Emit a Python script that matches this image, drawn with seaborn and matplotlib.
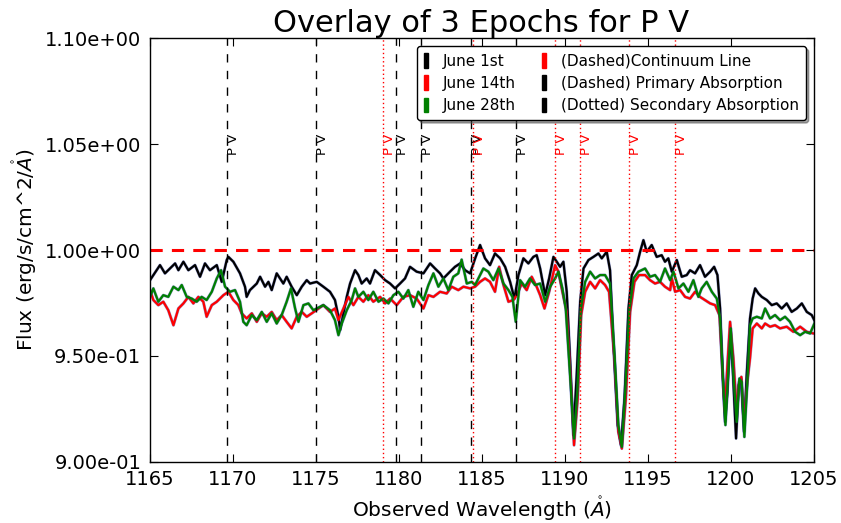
import matplotlib
matplotlib.use("Agg")
import matplotlib.pyplot as plt
import seaborn as sns
import pandas as pd
from matplotlib.patches import Patch
from matplotlib.ticker import FormatStrFormatter

# ---------------- data ----------------
wl_june1 = [1165.03, 1165.63, 1165.93, 1166.54, 1166.74, 1167.04, 1167.34, 1167.74, 1168.04, 1168.34,
            1168.64, 1169.05, 1169.35, 1169.65, 1169.75, 1170.05, 1170.45, 1170.75, 1170.85, 1171.05,
            1171.46, 1171.66, 1171.96, 1172.16, 1172.36, 1172.66, 1173.06, 1173.26, 1173.56, 1173.87,
            1174.17, 1174.47, 1174.67, 1175.07, 1175.47, 1175.87, 1176.17, 1176.38, 1176.48, 1176.68,
            1176.88, 1177.08, 1177.38, 1177.58, 1177.78, 1178.08, 1178.28, 1178.58, 1178.89, 1179.19,
            1179.49, 1179.79, 1180.09, 1180.39, 1180.69, 1181.09, 1181.50, 1181.90, 1182.20, 1182.50,
            1182.70, 1183.10, 1183.40, 1183.71, 1184.01, 1184.31, 1184.61, 1184.91, 1185.21, 1185.51,
            1185.81, 1186.12, 1186.42, 1186.72, 1186.98, 1187.22, 1187.52, 1187.82, 1188.12, 1188.32,
            1188.53, 1188.83, 1189.07, 1189.33, 1189.53, 1189.73, 1189.93, 1190.13, 1190.33, 1190.53,
            1190.73, 1190.94, 1191.14, 1191.44, 1191.74, 1192.04, 1192.24, 1192.54, 1192.74, 1192.94,
            1193.20, 1193.40, 1193.61, 1193.85, 1194.05, 1194.35, 1194.55, 1194.75, 1194.95, 1195.25,
            1195.55, 1195.85, 1196.05, 1196.25, 1196.46, 1196.76, 1197.06, 1197.36, 1197.56, 1197.86,
            1198.16, 1198.46, 1198.77, 1199.01, 1199.21, 1199.37, 1199.53, 1199.67, 1199.81, 1199.97,
            1200.13, 1200.33, 1200.49, 1200.63, 1200.81, 1200.97, 1201.17, 1201.33, 1201.48, 1201.68,
            1201.88, 1202.18, 1202.48, 1202.78, 1203.08, 1203.38, 1203.68, 1203.99, 1204.29, 1204.59,
            1204.89, 1205.09]
flux_june1 = [0.9858, 0.9929, 0.9890, 0.9937, 0.9905, 0.9945, 0.9905, 0.9929, 0.9874, 0.9937,
              0.9905, 0.9929, 0.9850, 0.9953, 0.9968, 0.9945, 0.9890, 0.9827, 0.9779, 0.9811,
              0.9842, 0.9874, 0.9827, 0.9850, 0.9811, 0.9890, 0.9842, 0.9874, 0.9827, 0.9787,
              0.9827, 0.9858, 0.9842, 0.9850, 0.9827, 0.9803, 0.9764, 0.9685, 0.9622, 0.9701,
              0.9779, 0.9842, 0.9905, 0.9882, 0.9842, 0.9866, 0.9842, 0.9905, 0.9882, 0.9858,
              0.9842, 0.9819, 0.9842, 0.9866, 0.9921, 0.9898, 0.9890, 0.9937, 0.9913, 0.9890,
              0.9866, 0.9898, 0.9921, 0.9937, 0.9905, 0.9890, 0.9960, 1.0024, 0.9961, 0.9929,
              0.9984, 0.9961, 0.9921, 0.9850, 0.9771, 0.9882, 0.9961, 0.9937, 0.9968, 0.9976,
              0.9913, 0.9787, 0.9866, 0.9968, 0.9945, 0.9921, 0.9945, 0.9803, 0.9488, 0.9125,
              0.9409, 0.9756, 0.9913, 0.9953, 0.9968, 0.9984, 0.9961, 0.9992, 0.9905, 0.9567,
              0.9173, 0.9078, 0.9299, 0.9724, 0.9882, 0.9929, 0.9992, 1.0047, 0.9992, 1.0024,
              0.9968, 0.9976, 0.9945, 0.9961, 0.9898, 0.9953, 0.9874, 0.9882, 0.9905, 0.9890,
              0.9929, 0.9874, 0.9898, 0.9921, 0.9882, 0.9724, 0.9409, 0.9188, 0.9330, 0.9598,
              0.9441, 0.9110, 0.9362, 0.9393, 0.9141, 0.9409, 0.9677, 0.9771, 0.9819, 0.9795,
              0.9779, 0.9764, 0.9740, 0.9748, 0.9724, 0.9748, 0.9708, 0.9724, 0.9748, 0.9708,
              0.9693, 0.9661]

wl_june14 = [1165.03, 1165.23, 1165.53, 1165.83, 1166.13, 1166.44, 1166.74, 1167.04, 1167.34, 1167.64,
             1167.94, 1168.24, 1168.44, 1168.75, 1169.05, 1169.45, 1169.75, 1170.05, 1170.35, 1170.55,
             1170.85, 1171.16, 1171.46, 1171.76, 1172.06, 1172.36, 1172.66, 1172.96, 1173.26, 1173.56,
             1173.87, 1174.17, 1174.47, 1174.77, 1175.47, 1175.87, 1176.17, 1176.38, 1176.68, 1176.98,
             1177.28, 1177.58, 1177.88, 1178.18, 1178.48, 1178.89, 1179.19, 1179.49, 1179.89, 1180.29,
             1180.69, 1181.09, 1181.50, 1181.80, 1182.10, 1182.50, 1182.90, 1183.20, 1183.60, 1183.91,
             1184.31, 1184.61, 1184.91, 1185.21, 1185.51, 1185.81, 1186.06, 1186.32, 1186.62, 1186.92,
             1187.12, 1187.42, 1187.72, 1188.02, 1188.32, 1188.53, 1188.79, 1189.07, 1189.43, 1189.63,
             1189.87, 1190.13, 1190.37, 1190.57, 1190.79, 1191.00, 1191.24, 1191.54, 1191.84, 1192.14,
             1192.44, 1192.68, 1193.00, 1193.24, 1193.45, 1193.69, 1193.95, 1194.21, 1194.49, 1194.85,
             1195.15, 1195.45, 1195.75, 1196.05, 1196.36, 1196.46, 1196.66, 1196.96, 1197.26, 1197.56,
             1197.86, 1198.16, 1198.46, 1198.77, 1199.07, 1199.33, 1199.49, 1199.65, 1199.81, 1199.97,
             1200.17, 1200.37, 1200.51, 1200.65, 1200.81, 1201.01, 1201.17, 1201.33, 1201.58, 1201.88,
             1202.08, 1202.38, 1202.68, 1202.98, 1203.38, 1203.78, 1204.19, 1204.59, 1204.99]
flux_june14 = [0.9811, 0.9764, 0.9740, 0.9756, 0.9716, 0.9645, 0.9724, 0.9748, 0.9779, 0.9748,
               0.9779, 0.9756, 0.9685, 0.9740, 0.9756, 0.9787, 0.9803, 0.9764, 0.9740, 0.9701,
               0.9677, 0.9701, 0.9661, 0.9701, 0.9685, 0.9708, 0.9669, 0.9693, 0.9661, 0.9630,
               0.9685, 0.9708, 0.9685, 0.9701, 0.9740, 0.9708, 0.9724, 0.9669, 0.9724, 0.9779,
               0.9740, 0.9779, 0.9756, 0.9787, 0.9756, 0.9779, 0.9748, 0.9771, 0.9740, 0.9779,
               0.9787, 0.9771, 0.9724, 0.9787, 0.9779, 0.9803, 0.9795, 0.9827, 0.9811, 0.9827,
               0.9819, 0.9827, 0.9850, 0.9866, 0.9850, 0.9803, 0.9921, 0.9835, 0.9756, 0.9764,
               0.9787, 0.9842, 0.9811, 0.9874, 0.9827, 0.9787, 0.9724, 0.9803, 0.9929, 0.9898,
               0.9803, 0.9708, 0.9393, 0.9078, 0.9299, 0.9693, 0.9803, 0.9850, 0.9819, 0.9858,
               0.9835, 0.9803, 0.9488, 0.9141, 0.9062, 0.9299, 0.9708, 0.9850, 0.9882, 0.9882,
               0.9858, 0.9842, 0.9850, 0.9827, 0.9811, 0.9866, 0.9803, 0.9811, 0.9779, 0.9771,
               0.9803, 0.9779, 0.9764, 0.9748, 0.9740, 0.9693, 0.9456, 0.9236, 0.9456, 0.9661,
               0.9488, 0.9236, 0.9377, 0.9401, 0.9188, 0.9377, 0.9488, 0.9630, 0.9653, 0.9630,
               0.9653, 0.9638, 0.9645, 0.9630, 0.9638, 0.9614, 0.9638, 0.9614, 0.9606]

wl_june28 = [1165.03, 1165.23, 1165.53, 1165.83, 1166.13, 1166.44, 1166.74, 1166.94, 1167.24, 1167.54,
             1167.84, 1168.14, 1168.44, 1168.75, 1169.05, 1169.31, 1169.55, 1169.85, 1170.15, 1170.45,
             1170.65, 1170.85, 1171.16, 1171.46, 1171.76, 1172.06, 1172.36, 1172.66, 1172.96, 1173.26,
             1173.52, 1173.77, 1173.97, 1174.27, 1174.57, 1174.87, 1175.47, 1175.87, 1176.17, 1176.38,
             1176.58, 1176.88, 1177.18, 1177.38, 1177.58, 1177.88, 1178.18, 1178.48, 1178.79, 1179.09,
             1179.39, 1179.69, 1179.99, 1180.29, 1180.59, 1180.89, 1181.19, 1181.50, 1181.80, 1182.10,
             1182.40, 1182.70, 1183.00, 1183.30, 1183.60, 1183.80, 1184.11, 1184.41, 1184.61, 1184.91,
             1185.11, 1185.41, 1185.71, 1186.02, 1186.32, 1186.62, 1186.86, 1187.06, 1187.32, 1187.62,
             1187.92, 1188.22, 1188.53, 1188.83, 1189.13, 1189.43, 1189.63, 1189.87, 1190.07, 1190.33,
             1190.57, 1190.77, 1190.98, 1191.24, 1191.54, 1191.84, 1192.14, 1192.44, 1192.74, 1193.00,
             1193.24, 1193.45, 1193.65, 1193.89, 1194.15, 1194.45, 1194.85, 1195.15, 1195.45, 1195.75,
             1196.05, 1196.36, 1196.56, 1196.86, 1197.16, 1197.46, 1197.76, 1198.06, 1198.26, 1198.56,
             1198.87, 1199.17, 1199.37, 1199.53, 1199.69, 1199.85, 1200.01, 1200.17, 1200.37, 1200.53,
             1200.67, 1200.83, 1201.01, 1201.17, 1201.33, 1201.58, 1201.88, 1202.08, 1202.38, 1202.68,
             1202.98, 1203.28, 1203.58, 1203.89, 1204.19, 1204.49, 1204.79, 1205.09]
flux_june28 = [0.9779, 0.9819, 0.9756, 0.9787, 0.9779, 0.9827, 0.9811, 0.9835, 0.9779, 0.9771,
               0.9756, 0.9779, 0.9764, 0.9803, 0.9866, 0.9905, 0.9827, 0.9803, 0.9811, 0.9756,
               0.9661, 0.9645, 0.9693, 0.9669, 0.9708, 0.9661, 0.9701, 0.9653, 0.9693, 0.9756,
               0.9819, 0.9724, 0.9661, 0.9740, 0.9748, 0.9716, 0.9740, 0.9716, 0.9669, 0.9598,
               0.9653, 0.9716, 0.9764, 0.9819, 0.9779, 0.9803, 0.9764, 0.9803, 0.9756, 0.9771,
               0.9748, 0.9787, 0.9803, 0.9771, 0.9811, 0.9732, 0.9803, 0.9764, 0.9835, 0.9890,
               0.9827, 0.9866, 0.9811, 0.9874, 0.9890, 0.9955, 0.9842, 0.9850, 0.9835, 0.9882,
               0.9913, 0.9898, 0.9858, 0.9913, 0.9842, 0.9811, 0.9779, 0.9661, 0.9858, 0.9827,
               0.9866, 0.9835, 0.9842, 0.9756, 0.9827, 0.9866, 0.9898, 0.9819, 0.9724, 0.9409,
               0.9110, 0.9330, 0.9724, 0.9850, 0.9898, 0.9866, 0.9882, 0.9882, 0.9842, 0.9519,
               0.9173, 0.9070, 0.9330, 0.9708, 0.9866, 0.9898, 0.9913, 0.9874, 0.9882, 0.9850,
               0.9913, 0.9858, 0.9898, 0.9819, 0.9842, 0.9803, 0.9858, 0.9779, 0.9819, 0.9850,
               0.9803, 0.9771, 0.9677, 0.9409, 0.9173, 0.9409, 0.9630, 0.9409, 0.9188, 0.9393,
               0.9377, 0.9117, 0.9377, 0.9645, 0.9677, 0.9685, 0.9677, 0.9724, 0.9677, 0.9693,
               0.9669, 0.9685, 0.9661, 0.9614, 0.9598, 0.9614, 0.9606, 0.9661]

continuum_level = 1.0
primary_lines = [1169.65, 1175.03, 1179.83, 1181.33, 1184.34, 1187.05]
secondary_lines = [1179.09, 1184.49, 1189.40, 1190.90, 1193.90, 1196.63]
line_label = "P V"
epoch_names = ["June 1st", "June 14th", "June 28th"]
epoch_colors = ["black", "red", "green"]
extra_names = ["(Dashed)Continuum Line", "(Dashed) Primary Absorption", "(Dotted) Secondary Absorption"]
extra_colors = ["red", "black", "black"]
x_ticks = [1165, 1170, 1175, 1180, 1185, 1190, 1195, 1200, 1205]
y_ticks = [0.90, 0.95, 1.00, 1.05, 1.10]

# ---------------- style ----------------
sns.set_style("ticks")
plt.rcParams["font.family"] = ["DejaVu Sans"]
plt.rcParams["mathtext.fontset"] = "dejavusans"
plt.rcParams["text.color"] = "black"
plt.rcParams["axes.labelcolor"] = "black"
plt.rcParams["xtick.color"] = "black"
plt.rcParams["ytick.color"] = "black"
plt.rcParams["xtick.direction"] = "in"
plt.rcParams["ytick.direction"] = "in"
plt.rcParams["xtick.top"] = True
plt.rcParams["ytick.right"] = True

fig = plt.figure(figsize=(8.41, 5.23), dpi=100)
ax = fig.add_axes([0.1778, 0.1172, 0.7896, 0.8092])

frames = []
for name, wl, fl in [(epoch_names[0], wl_june1, flux_june1),
                     (epoch_names[1], wl_june14, flux_june14),
                     (epoch_names[2], wl_june28, flux_june28)]:
    frames.append(pd.DataFrame({"wl": wl, "flux": fl, "epoch": name}))
df = pd.concat(frames, ignore_index=True)

for name, col in zip(epoch_names, epoch_colors):
    sub = df[df["epoch"] == name]
    sns.lineplot(data=sub, x="wl", y="flux", color="#2030a0", lw=2.2, alpha=0.45,
                 estimator=None, sort=True, ax=ax, legend=False)
    sns.lineplot(data=sub, x="wl", y="flux", color=col, lw=1.6,
                 estimator=None, sort=True, ax=ax, legend=False)

ax.axhline(continuum_level, color="red", ls=(0, (4, 3)), lw=2.2)
for x in primary_lines:
    ax.axvline(x, color="black", ls=(0, (6, 6)), lw=1.0)
    ax.text(x, 1.045, line_label, rotation=90, color="black", fontsize=9.5,
            ha="left", va="bottom")
for x in secondary_lines:
    ax.axvline(x, color="red", ls=(0, (1, 2)), lw=1.0)
    ax.text(x, 1.045, line_label, rotation=90, color="red", fontsize=9.5,
            ha="left", va="bottom")

ax.set_xlim(1165, 1205)
ax.set_ylim(0.90, 1.10)
ax.set_xticks(x_ticks)
ax.set_yticks(y_ticks)
ax.yaxis.set_major_formatter(FormatStrFormatter("%.2e"))
ax.tick_params(labelsize=14, length=6, width=0.8, color="black", pad=6)
for s in ax.spines.values():
    s.set_color("black")
    s.set_linewidth(1.0)

ax.set_xlabel(r"Observed Wavelength ($\mathring{A}$)", fontsize=14.5, labelpad=4)
ax.set_ylabel(r"Flux (erg/s/cm^2/$\mathring{A}$)", fontsize=14.5, labelpad=4)
ax.set_title("Overlay of 3 Epochs for P V", fontsize=22, pad=5)

handles = [Patch(color=c) for c in epoch_colors] + [Patch(color=c) for c in extra_colors]
labels = epoch_names + extra_names
leg = ax.legend(handles, labels, ncol=2, loc="upper right", fontsize=11,
                handlelength=0.25, handleheight=1.1, handletextpad=1.0,
                columnspacing=1.7, frameon=True, fancybox=True, shadow=True,
                borderaxespad=0.5, labelspacing=0.45, borderpad=0.45)
leg.get_frame().set_edgecolor("black")
leg.get_frame().set_linewidth(1.0)

fig.savefig("out.png", dpi=100)
